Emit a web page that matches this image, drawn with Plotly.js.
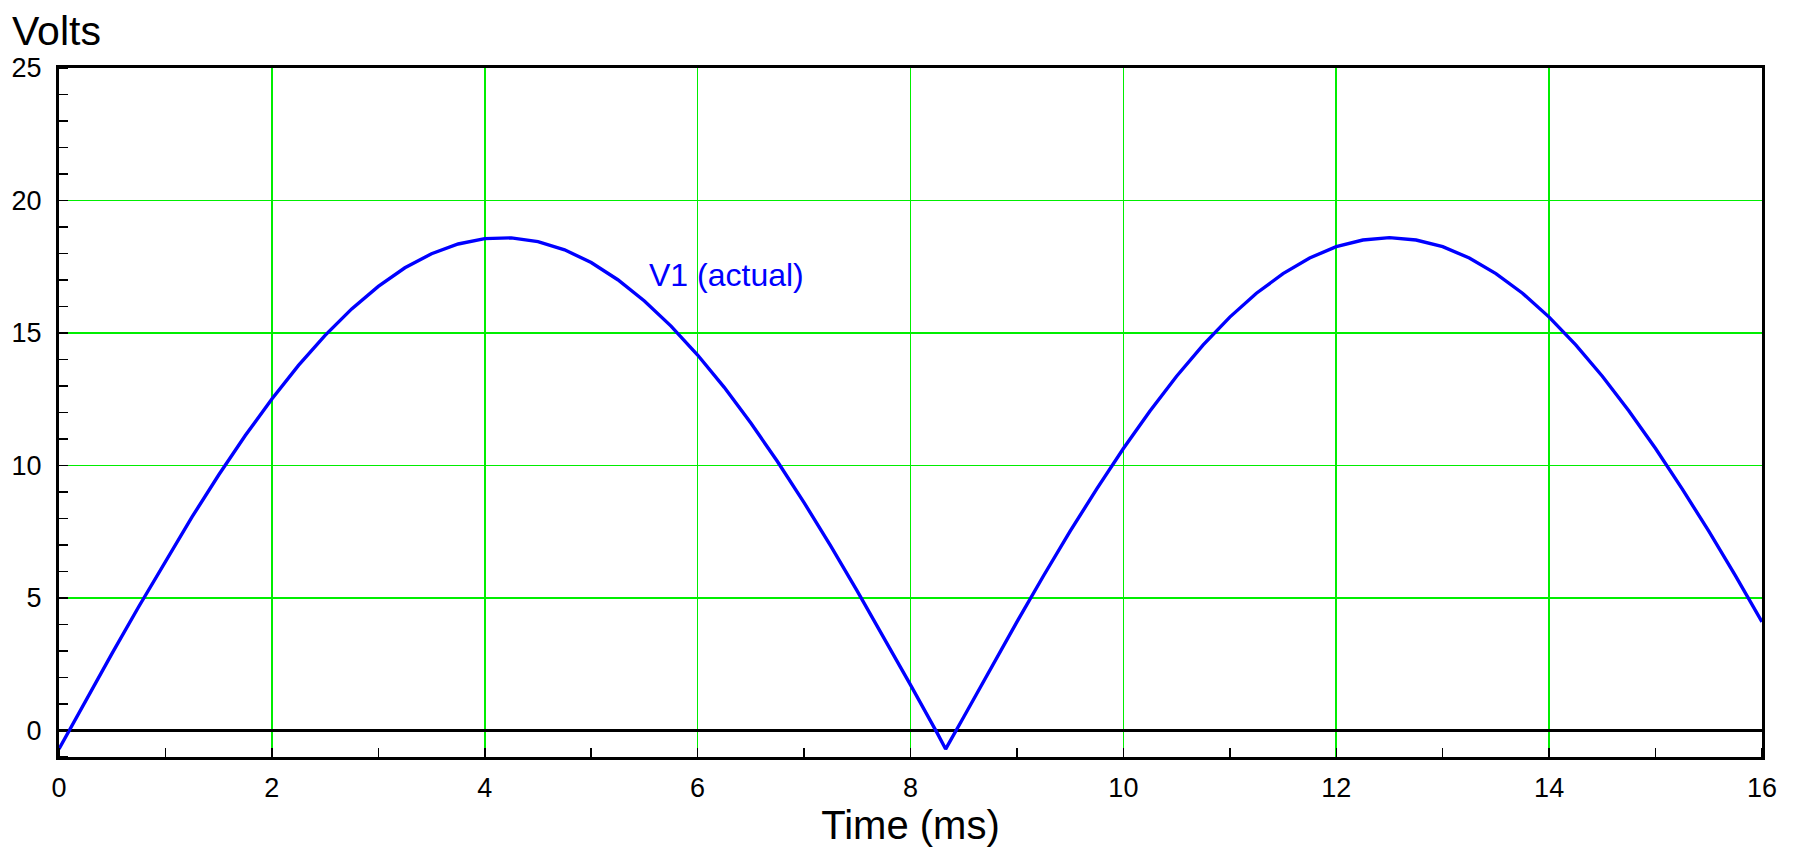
<!DOCTYPE html>
<html>
<head>
<meta charset="utf-8">
<script src="https://cdn.plot.ly/plotly-3.0.1.min.js"></script>
<style>html,body{margin:0;padding:0;background:#fff;}#chart{width:1794px;height:854px;}</style>
</head>
<body>
<div id="chart"></div>
<script>
// Time (ms)
const timeMs = [0, 0.25, 0.5, 0.75, 1.0, 1.25, 1.5, 1.75, 2.0, 2.25, 2.5, 2.75, 3.0, 3.25, 3.5, 3.75,
  4.0, 4.25, 4.5, 4.75, 5.0, 5.25, 5.5, 5.75, 6.0, 6.25, 6.5, 6.75, 7.0, 7.25, 7.5, 7.75,
  8.0, 8.25, 8.33, 8.5, 8.75, 9.0, 9.25, 9.5, 9.75, 10.0, 10.25, 10.5, 10.75, 11.0, 11.25, 11.5, 11.75,
  12.0, 12.25, 12.5, 12.75, 13.0, 13.25, 13.5, 13.75, 14.0, 14.25, 14.5, 14.75, 15.0, 15.25, 15.5, 15.75, 16.0];
// V1 (actual), volts
const v1Actual = [-0.70, 1.12, 2.92, 4.68, 6.40, 8.06, 9.64, 11.13, 12.51, 13.78, 14.91, 15.91, 16.76, 17.46, 17.99, 18.36,
  18.56, 18.59, 18.45, 18.14, 17.66, 17.01, 16.21, 15.26, 14.17, 12.95, 11.60, 10.15, 8.60, 6.97, 5.26, 3.51,
  1.72, -0.09, -0.70, 0.51, 2.32, 4.10, 5.84, 7.52, 9.12, 10.64, 12.06, 13.37, 14.55, 15.60, 16.50, 17.24, 17.83,
  18.26, 18.51, 18.60, 18.51, 18.26, 17.83, 17.24, 16.50, 15.60, 14.55, 13.37, 12.06, 10.64, 9.12, 7.52, 5.84, 4.10];
const xTicks = [0, 2, 4, 6, 8, 10, 12, 14, 16];
const yTicks = [0, 5, 10, 15, 20, 25];
const seriesName = "V1 (actual)";

const font = "Liberation Sans, Arial, Helvetica, sans-serif";

const trace = {
  x: timeMs, y: v1Actual, type: "scatter", mode: "lines", name: seriesName,
  line: {color: "#0000ff", width: 3.4}, hoverinfo: "x+y"
};

const layout = {
  width: 1794, height: 854,
  margin: {l: 59, r: 32, t: 68, b: 97},
  paper_bgcolor: "#ffffff", plot_bgcolor: "#ffffff",
  showlegend: false,
  font: {family: font, color: "#000"},
  xaxis: {
    range: [0, 16], tickvals: xTicks, ticktext: xTicks.map(String),
    showgrid: true, gridcolor: "#00ee00", gridwidth: 1.6,
    zeroline: false, showline: true, linecolor: "#000", linewidth: 3, mirror: true,
    ticks: "outside", ticklen: 5, tickcolor: "rgba(0,0,0,0)",
    tickfont: {size: 27, family: font, color: "#000"},
    minor: {dtick: 1, tick0: 0, ticks: "inside", ticklen: 9, tickwidth: 1.5, tickcolor: "#000", showgrid: false},
    title: {text: "Time (ms)", font: {size: 40, family: font, color: "#000"}, standoff: 6},
    fixedrange: true
  },
  yaxis: {
    range: [-1, 25], tickvals: yTicks, ticktext: yTicks.map(String),
    showgrid: true, gridcolor: "#00ee00", gridwidth: 1.6,
    zeroline: true, zerolinecolor: "#000", zerolinewidth: 2.5,
    showline: true, linecolor: "#000", linewidth: 3, mirror: true,
    ticks: "outside", ticklen: 9, tickcolor: "rgba(0,0,0,0)",
    tickfont: {size: 27, family: font, color: "#000"},
    minor: {dtick: 1, tick0: 0, ticks: "inside", ticklen: 9, tickwidth: 1.5, tickcolor: "#000", showgrid: false},
    fixedrange: true
  },
  annotations: [
    {text: "Volts", xref: "paper", yref: "paper", x: -0.029, y: 1.054, xanchor: "left", yanchor: "middle",
     showarrow: false, font: {size: 41, family: font, color: "#000"}},
    {text: seriesName, xref: "x", yref: "y", x: 5.52, y: 17.2, xanchor: "left", yanchor: "middle",
     showarrow: false, font: {size: 32, family: font, color: "#0000ff"}}
  ]
};

Plotly.newPlot("chart", [trace], layout, {displayModeBar: false, staticPlot: true});
</script>
</body>
</html>
